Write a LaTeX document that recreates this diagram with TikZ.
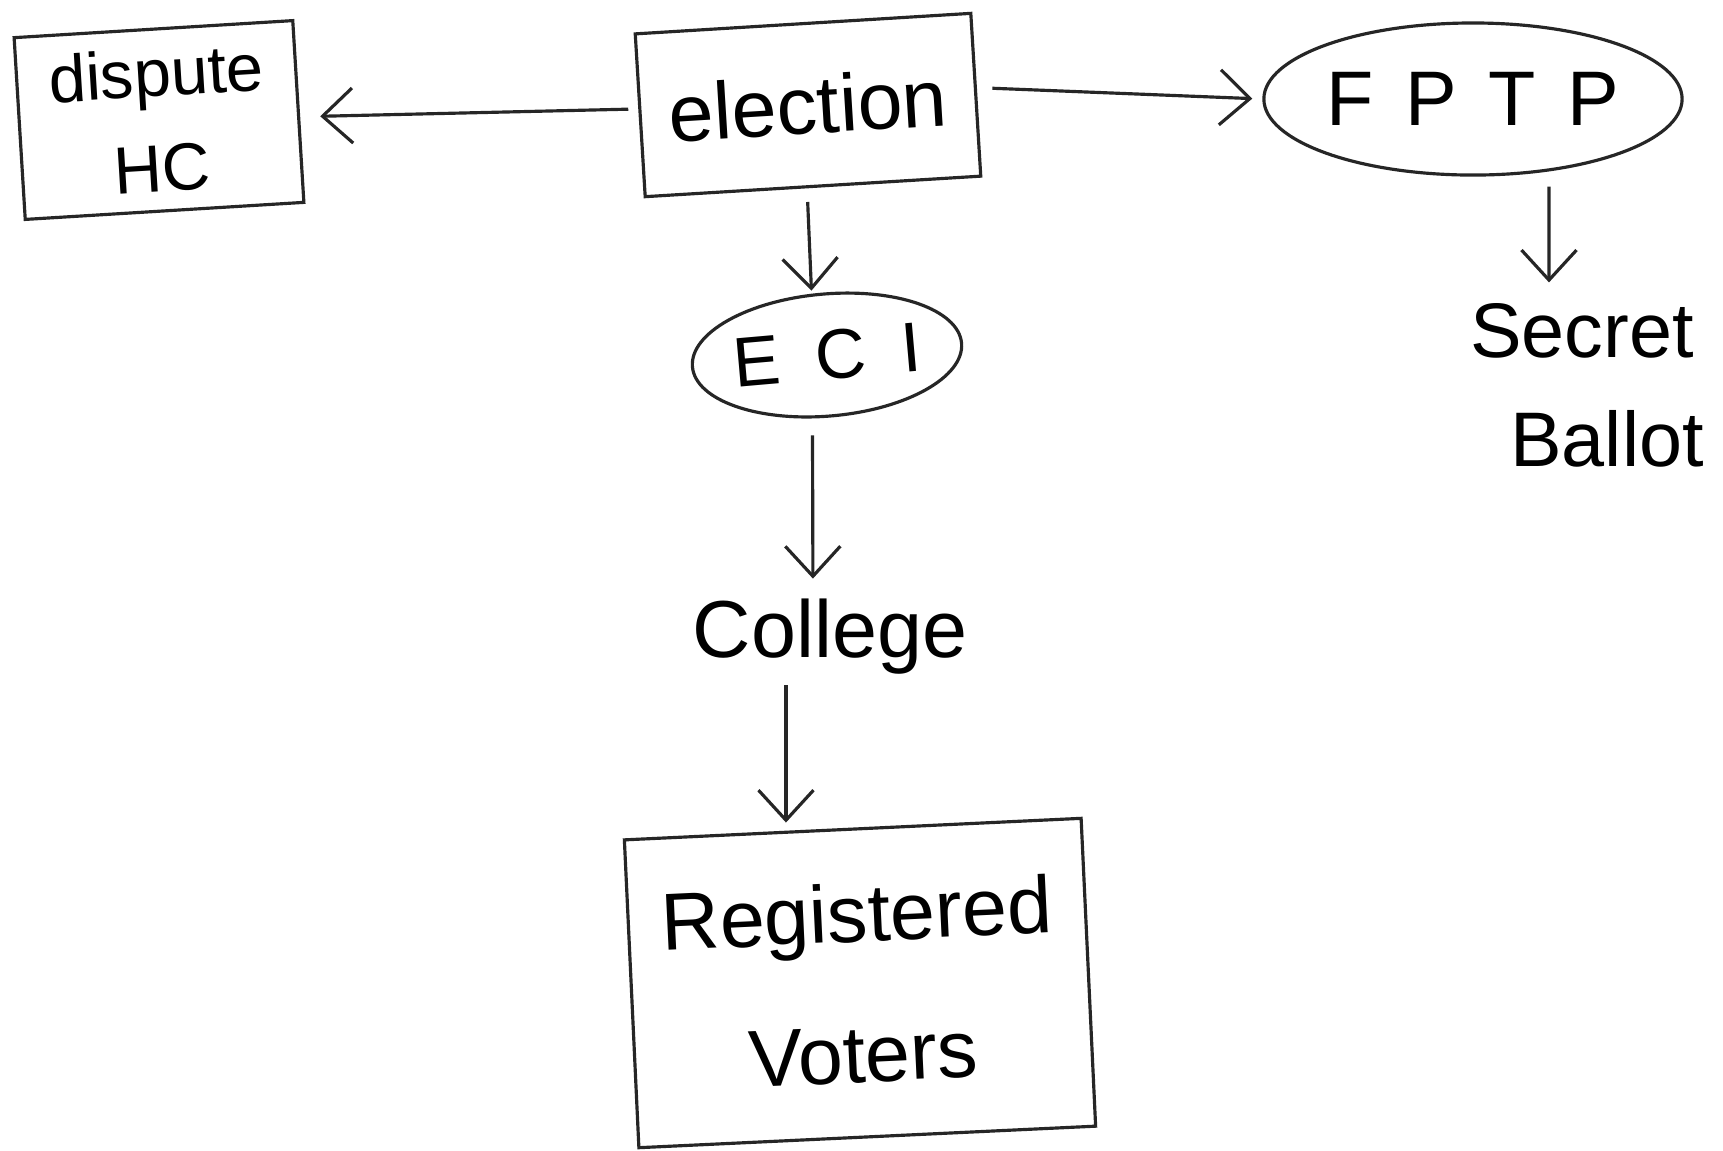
\documentclass[tikz,border=0pt]{standalone}
\usepackage{fontspec}
\setmainfont{Liberation Sans}
\usetikzlibrary{arrows.meta,shapes.geometric}
\begin{document}
\begin{tikzpicture}[x=0.01cm,y=-0.01cm,
  ink/.style={draw=black!85,line width=0.9pt},
  box/.style={ink,rectangle,inner sep=0pt,align=center},
  oval/.style={ink,ellipse,inner sep=0pt,align=center},
  lbl/.style={inner sep=0pt,align=center},
  arr/.style={ink,-{Straight Barb[length=0.3cm,width=0.55cm,line width=0.9pt]}}]
\path[fill=white,use as bounding box] (0,0) rectangle (1723,1150);
% nodes
\node[box,rotate=3.5,minimum width=3.36cm,minimum height=1.63cm,
      font=\fontsize{23}{27}\selectfont] (election) at (808,105) {election};
\node[box,rotate=3.5,minimum width=2.79cm,minimum height=1.82cm,
      font=\fontsize{19}{27}\selectfont] (dispute) at (159,120) {dispute\\HC};
\node[oval,minimum width=4.18cm,minimum height=1.52cm,
      font=\fontsize{22}{26}\selectfont] (FPTP) at (1473,99) {F\hspace{9pt}P\hspace{9pt}T\hspace{9pt}P};
\node[oval,rotate=5,minimum width=2.70cm,minimum height=1.22cm,
      font=\fontsize{20}{24}\selectfont] (ECI) at (827,355) {E\hspace{10pt}C\hspace{10pt}I};
\node[lbl,font=\fontsize{23}{27}\selectfont] (College) at (830,637) {College};
\node[box,rotate=2.7,minimum width=4.57cm,minimum height=3.08cm,
      font=\fontsize{23}{40}\selectfont] (Registered) at (860,983) {Registered\\Voters};
\node[lbl,font=\fontsize{22}{31}\selectfont] (Secret) at (1582,385) {Secret\\\hspace{0.5cm}Ballot};
% connectors
\draw[arr,shorten <=0.1cm,shorten >=0.2cm] (election) -- (dispute);
\draw[arr,shorten <=0.15cm,shorten >=0.1cm] ([yshift=0.07cm]election.east) -- (FPTP.west);
\draw[arr,shorten <=0.14cm,shorten >=0.02cm] ([xshift=-0.06cm]election.south) -- ([xshift=-0.1cm]ECI.north);
\draw[arr,shorten <=0.18cm,shorten >=0.2cm] ([xshift=-0.2cm]ECI.south) -- ([xshift=-0.17cm]College.north);
\draw[arr,shorten <=0.1cm,shorten >=0.05cm] ([xshift=-0.44cm]College.south) -- ([xshift=-0.44cm]College.south |- Registered.north);
\draw[arr,shorten <=0.1cm,shorten >=0.2cm] ([xshift=0.76cm]FPTP.south) -- ([xshift=-0.33cm]Secret.north);
\end{tikzpicture}
\end{document}
